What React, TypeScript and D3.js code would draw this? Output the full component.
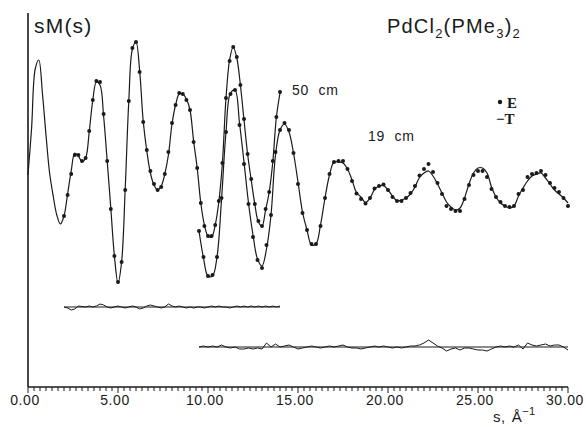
import * as d3 from "d3";

// 50 cm camera: theoretical curve, s = 0.0 .. 14.0 step 0.2
const theory50 = [
  -1.5, 3.2, 9.1, 10.0, 6.7, 2.5, -1.3, -3.6, -5.5, -6.4,
  -5.6, -3.4, -1.1, 0.7, 0.4, -0.15, 0.2, 2.8, 6.0, 7.8,
  7.5, 4.4, -0.1, -4.8, -9.6, -12.3, -10.2, -2.9, 5.9, 11.1,
  11.8, 9.0, 3.9, 0.9, -1.3, -2.5, -3.0, -2.6, -1.4, 0.5,
  3.6, 5.5, 6.6, 6.6, 6.1, 5.0, 1.9, -0.8, -4.3, -6.5,
  -7.6, -7.7, -6.5, -4.2, -0.3, 6.2, 10.0, 11.3, 10.2, 7.5,
  4.0, 0.6, -2.0, -4.4, -6.2, -6.6, -5.0, -3.2, -0.2, 4.3,
  6.7,
];
// 50 cm camera: experimental points, s = 2.0 .. 14.0 step 0.2
const exp50 = [
  -5.6, -3.5, -1.4, 0.5, 0.5, -0.1, 0.2, 2.9, 6.0, 7.9,
  7.8, 4.6, -0.1, -4.9, -9.6, -12.2, -10.2, -3.0, 5.9, 11.2,
  11.8, 8.8, 3.8, 1.0, -1.1, -2.4, -3.0, -2.7, -1.4, 0.8,
  3.7, 5.5, 6.7, 6.6, 6.0, 5.0, 1.8, -0.8, -4.3, -6.6,
  -7.6, -7.6, -6.5, -4.1, -0.3, 6.2, 9.9, 11.3, 10.3, 7.5,
  4.1, 0.6, -1.9, -4.4, -6.1, -6.6, -4.9, -3.2, -0.1, 4.3,
  6.8,
];
// 19 cm camera: theoretical curve, s = 9.5 .. 30.0 step 0.25
const theory19 = [
  -3.4, -6.1, -7.9, -7.9, -6.0, -0.3, 6.5, 10.4, 10.7, 7.4,
  3.5, -0.6, -3.8, -6.2, -6.9, -5.2, -1.8, 4.2, 6.7, 7.3,
  6.5, 4.4, 1.5, -1.5, -3.3, -4.8, -4.7, -2.8, -0.1, 2.2,
  3.5, 3.5, 3.4, 2.8, 1.7, 0.45, 0.0, -0.55, -0.1, 0.75,
  1.1, 1.15, 0.7, 0.1, -0.4, -0.3, -0.1, 0.3, 1.0, 1.95,
  2.4, 2.6, 2.1, 1.3, 0.4, -0.5, -1.0, -1.3, -1.1, -0.1,
  1.3, 2.4, 2.9, 2.9, 2.4, 1.0, 0.0, -0.6, -0.9, -1.1,
  -0.9, 0.1, 0.9, 1.6, 2.1, 2.3, 2.4, 1.9, 1.3, 0.7,
  0.3, -0.1, -0.6,
];
// 19 cm camera: experimental points, s = 9.5 .. 30.0 step 0.25
const exp19 = [
  -3.4, -6.0, -7.9, -7.8, -6.0, -0.1, 6.5, 10.3, 10.7, 7.2,
  3.3, -0.7, -4.0, -6.3, -7.1, -4.8, -1.8, 4.5, 6.7, 7.4,
  6.7, 4.4, 1.3, -1.6, -3.3, -4.7, -4.7, -2.9, -0.1, 2.3,
  3.5, 3.6, 3.6, 2.8, 1.6, 0.35, -0.2, -0.65, -0.1, 0.85,
  1.1, 1.25, 0.7, 0.0, -0.4, -0.4, -0.1, 0.4, 1.1, 2.15,
  2.8, 3.3, 2.5, 1.4, 0.3, -0.9, -1.2, -1.4, -1.4, -0.2,
  1.2, 2.2, 2.6, 2.6, 2.0, 0.8, 0.0, -0.5, -0.9, -1.0,
  -0.9, 0.3, 0.7, 2.0, 2.3, 2.4, 2.6, 2.2, 1.4, 0.9,
  0.5, -0.1, -0.9,
];

const xTicks = [0, 5, 10, 15, 20, 25, 30];

const W = 586;
const H = 427;

// vertical shifts of the stacked curves (in sM units)
const shift19 = -3.7;
const shiftRes50 = -14.7;
const shiftRes19 = -18.7;

const grid = (start: number, step: number, n: number) =>
  d3.range(n).map((i) => +(start + step * i).toFixed(3));

export default function App() {
  const x = d3.scaleLinear().domain([0, 30]).range([28, 568]);
  const y = d3.scaleLinear().domain([-22.7, 14.8]).range([387, 12]);

  const sT50 = grid(0, 0.2, theory50.length);
  const sE50 = grid(2, 0.2, exp50.length);
  const s19 = grid(9.5, 0.25, theory19.length);

  const t50 = sT50.map((s, i) => [s, theory50[i]] as [number, number]);
  const e50 = sE50.map((s, i) => [s, exp50[i]] as [number, number]);
  const t19 = s19.map((s, i) => [s, theory19[i] + shift19] as [number, number]);
  const e19 = s19.map((s, i) => [s, exp19[i] + shift19] as [number, number]);

  // residuals E - T
  const r50 = sE50.map((s, i) => {
    const j = sT50.indexOf(s);
    return [s, exp50[i] - theory50[j] + shiftRes50] as [number, number];
  });
  const r19 = s19.map((s, i) => [s, exp19[i] - theory19[i] + shiftRes19] as [number, number]);

  const smooth = d3
    .line<[number, number]>()
    .x((d) => x(d[0]))
    .y((d) => y(d[1]))
    .curve(d3.curveCatmullRom.alpha(0.5));
  const poly = d3
    .line<[number, number]>()
    .x((d) => x(d[0]))
    .y((d) => y(d[1]));

  const minor = d3.range(0, 91).map((i) => i / 3);
  const ink = "#1a1a1a";
  const sans = "'Liberation Sans', Arial, sans-serif";

  return (
    <svg
      width={W}
      height={H}
      style={{ position: "absolute", left: 0, top: 0, background: "#fff" }}
      fontFamily={sans}
    >
      {/* axes */}
      <line x1={28} x2={28} y1={13} y2={387} stroke={ink} strokeWidth={1.6} />
      <line x1={28} x2={x(30)} y1={387} y2={387} stroke={ink} strokeWidth={1.4} />
      {minor.map((t, i) => (
        <line
          key={"m" + i}
          x1={x(t)}
          x2={x(t)}
          y1={387}
          y2={Math.abs(t / 5 - Math.round(t / 5)) < 1e-6 ? 393 : 391}
          stroke={ink}
          strokeWidth={1}
        />
      ))}
      {xTicks.map((t) => (
        <text
          key={t}
          x={x(t) - 3}
          y={405}
          fontSize={14}
          letterSpacing={0.6}
          textAnchor="middle"
          fill={ink}
        >
          {t.toFixed(2)}
        </text>
      ))}
      <text x={493} y={422} fontSize={15} fill={ink} letterSpacing={0.5}>
        s,
        <tspan dx={6}>Å</tspan>
        <tspan dy={-7} fontSize={11}>−1</tspan>
      </text>

      {/* labels */}
      <text x={34} y={33} fontSize={21} letterSpacing={1.2} fill={ink}>
        sM(s)
      </text>
      <text x={387} y={33} fontSize={20} letterSpacing={1.2} fill={ink}>
        PdCl
        <tspan dy={5} fontSize={13}>2</tspan>
        <tspan dy={-5}>(PMe</tspan>
        <tspan dy={5} fontSize={13}>3</tspan>
        <tspan dy={-5}>)</tspan>
        <tspan dy={5} fontSize={13}>2</tspan>
      </text>
      <text x={292} y={95} fontSize={14} fill={ink} letterSpacing={0.8} style={{ whiteSpace: "pre" }}>
        {"50  cm"}
      </text>
      <text x={368} y={141} fontSize={14} fill={ink} letterSpacing={0.8} style={{ whiteSpace: "pre" }}>
        {"19  cm"}
      </text>

      {/* legend */}
      <circle cx={500} cy={102} r={2.2} fill={ink} />
      <text x={507} y={108} fontSize={15} fontWeight="bold" fontFamily="'Liberation Serif', serif" fill={ink}>
        E
      </text>
      <text x={496} y={124} fontSize={15} fontWeight="bold" fontFamily="'Liberation Serif', serif" fill={ink}>
        −T
      </text>

      {/* theoretical curves */}
      <path d={smooth(t50) ?? ""} fill="none" stroke={ink} strokeWidth={1.2} />
      <path d={smooth(t19) ?? ""} fill="none" stroke={ink} strokeWidth={1.2} />

      {/* experimental points */}
      {e50.map((d, i) => (
        <circle key={"a" + i} cx={x(d[0])} cy={y(d[1])} r={2} fill={ink} />
      ))}
      {e19.map((d, i) => (
        <circle key={"b" + i} cx={x(d[0])} cy={y(d[1])} r={2} fill={ink} />
      ))}

      {/* residual curves */}
      <line x1={x(2)} x2={x(14)} y1={y(shiftRes50)} y2={y(shiftRes50)} stroke={ink} strokeWidth={1.2} />
      <path d={poly(r50) ?? ""} fill="none" stroke={ink} strokeWidth={1} />
      <line x1={x(9.5)} x2={x(30)} y1={y(shiftRes19)} y2={y(shiftRes19)} stroke={ink} strokeWidth={1.2} />
      <path d={poly(r19) ?? ""} fill="none" stroke={ink} strokeWidth={1} />
    </svg>
  );
}
